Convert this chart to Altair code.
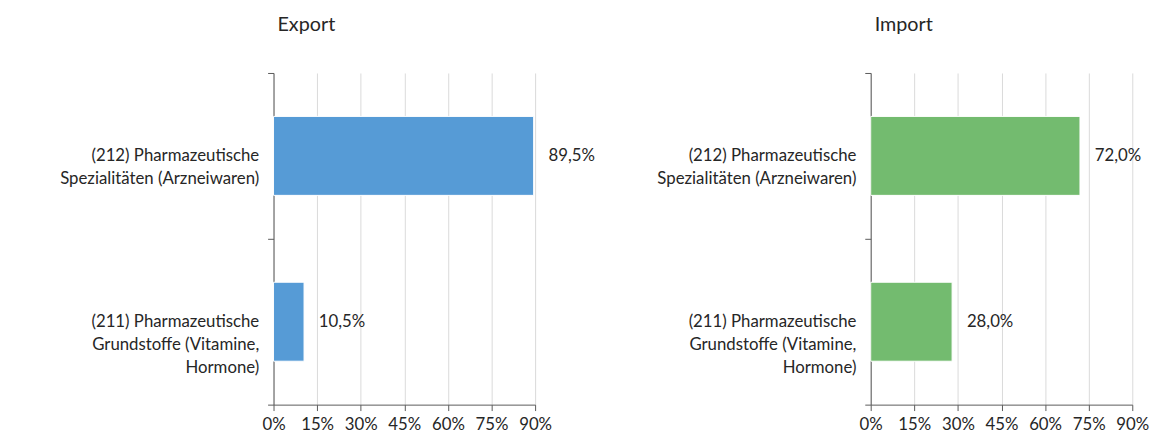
import altair as alt
import pandas as pd

categories = [
    "(212) Pharmazeutische|Spezialitäten (Arzneiwaren)",
    "(211) Pharmazeutische|Grundstoffe (Vitamine,|Hormone)",
]
export_values = [89.5, 10.5]
import_values = [72.0, 28.0]
x_ticks = [0, 15, 30, 45, 60, 75, 90]

FONT = "Lato"
TXT = "#262626"


def panel(values, title, color):
    df = pd.DataFrame({"cat": categories, "val": values})
    base = alt.Chart(df)
    x = alt.X(
        "val:Q",
        scale=alt.Scale(domain=[0, 90], nice=False),
        axis=alt.Axis(
            values=x_ticks,
            labelExpr="datum.value + '%'",
            title=None,
            grid=True,
            gridColor="#D9D9D9",
            domainColor="#595959",
            tickColor="#595959",
            tickSize=6,
            labelFontSize=17,
            labelFont=FONT,
            labelColor=TXT,
            labelPadding=6,
            labelOverlap=False,
            labelFlush=False,
        ),
    )
    y = alt.Y(
        "cat:N",
        sort=categories,
        scale=alt.Scale(paddingInner=0, paddingOuter=0),
        axis=alt.Axis(
            title=None,
            labelExpr="split(datum.label, '|')",
            labelFontSize=17,
            labelFont=FONT,
            labelColor=TXT,
            labelLineHeight=23,
            labelLimit=400,
            labelPadding=9,
            tickBand="extent",
            domainColor="#595959",
            tickColor="#595959",
            tickSize=6,
        ),
    )
    bars = base.mark_bar(
        color=color, stroke="white", strokeWidth=1, height=alt.RelativeBandSize(80 / 168)
    ).encode(x=x, y=y)
    text = (
        base.transform_calculate(
            lab="replace(format(datum.val, '.1f'), '.', ',') + '%'"
        )
        .mark_text(align="left", baseline="middle", dx=15, fontSize=17, font=FONT, color=TXT)
        .encode(x="val:Q", y=alt.Y("cat:N", sort=categories), text="lab:N")
    )
    return alt.layer(bars, text).properties(
        width=265,
        height=336,
        title=alt.TitleParams(
            title, anchor="start", frame="group", fontSize=20, font=FONT,
            fontWeight="normal", color=TXT, offset=30, dx=4,
        ),
    )


chart = (
    alt.hconcat(
        panel(export_values, "Export", "#569BD6"),
        panel(import_values, "Import", "#73BB6F"),
        spacing=62,
    )
    .properties(padding={"left": 52, "top": 4, "right": 5, "bottom": 5})
    .configure_view(stroke=None)
)

chart.save("out.html", embed_options={"renderer": "svg", "actions": False})
